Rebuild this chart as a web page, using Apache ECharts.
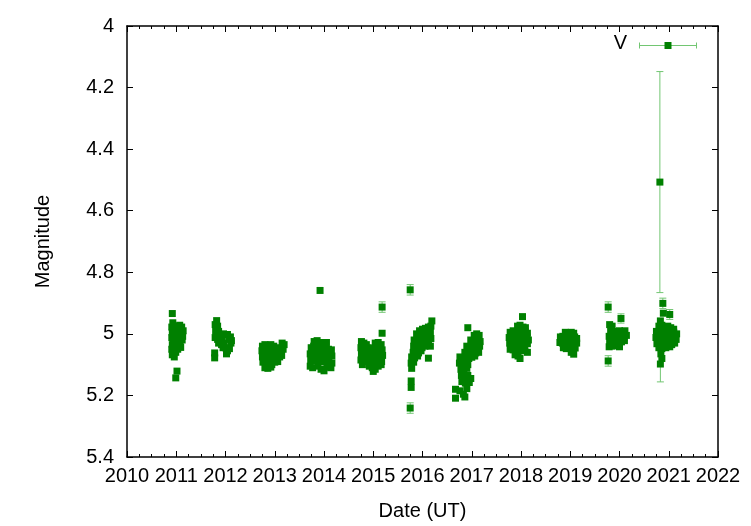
<!DOCTYPE html>
<html><head><meta charset="utf-8">
<script src="https://cdn.jsdelivr.net/npm/echarts@6/dist/echarts.min.js"></script>
<style>html,body{margin:0;padding:0;background:#fff}#c{width:751px;height:526px}</style>
</head><body><div id="c"></div>
<script>
// Tick values / labels
const yearTicks = [2010,2011,2012,2013,2014,2015,2016,2017,2018,2019,2020,2021,2022];
const magTicks = [4,4.2,4.4,4.6,4.8,5,5.2,5.4];
const seriesName = 'V';
const xTitle = 'Date (UT)';
const yTitle = 'Magnitude';

// Observations per season: [year, magnitude, (optional) error]
const s2011 = [[2010.92,4.934],[2010.93,4.964],[2010.91,4.978],[2010.95,4.985],[2010.92,4.995],[2010.96,5.005],[2010.91,5.012],[2010.94,5.022],[2010.92,5.035],[2010.96,5.04],[2010.91,5.05],[2010.94,5.058],[2010.92,5.068],[2010.96,5.075],[2010.99,5.06],
[2011.0,4.985],[2011.03,4.975],[2011.07,4.972],[2011.11,4.978],[2011.14,4.99],[2011.02,4.998],[2011.06,4.992],[2011.1,5.0],[2011.13,5.008],[2011.0,5.015],[2011.04,5.02],[2011.08,5.025],[2011.12,5.02],[2011.01,5.035],[2011.05,5.04],[2011.09,5.044],[2011.03,5.05],
[2011.015,5.121],[2010.99,5.143]];
const s2012 = [[2011.82,4.957],[2011.79,4.97],[2011.84,4.975],[2011.8,4.99],[2011.86,4.992],[2011.82,5.0],[2011.88,5.008],[2011.79,5.012],[2011.84,5.018],[2011.9,5.02],[2011.86,5.03],[2011.78,5.062],[2011.78,5.078],[2011.93,5.01],[2011.96,5.0],[2012.0,5.003],[2012.04,5.002],[2011.92,5.035],[2011.97,5.03],[2012.1,5.01],[2012.12,5.022],[2012.07,5.018],[2012.0,5.045],[2012.04,5.055],[2012.08,5.048],[2012.02,5.065],[2012.11,5.03],[2011.95,5.045]];
const s2013 = [[2012.75,5.04],[2012.8,5.035],[2012.86,5.04],[2012.92,5.035],[2012.98,5.04],[2013.04,5.045],[2013.15,5.03],[2013.19,5.035],[2013.17,5.05],
[2012.74,5.055],[2012.78,5.06],[2012.84,5.055],[2012.9,5.062],[2012.96,5.058],[2013.02,5.06],[2013.08,5.065],[2013.12,5.06],
[2012.75,5.075],[2012.81,5.08],[2012.87,5.075],[2012.93,5.082],[2012.99,5.078],[2013.05,5.08],[2013.1,5.075],[2013.14,5.07],
[2012.76,5.092],[2012.82,5.098],[2012.88,5.095],[2012.94,5.1],[2013.0,5.092],[2013.06,5.09],
[2012.8,5.11],[2012.86,5.112],[2012.92,5.108]];
const s2014 = [[2013.92,4.859],
[2013.8,5.025],[2013.86,5.022],[2013.93,5.028],[2014.0,5.03],[2014.05,5.028],
[2013.74,5.045],[2013.79,5.04],[2013.85,5.045],[2013.91,5.042],[2013.97,5.048],[2014.03,5.045],[2014.09,5.05],[2014.15,5.052],
[2013.72,5.065],[2013.78,5.062],[2013.84,5.068],[2013.9,5.065],[2013.96,5.07],[2014.02,5.066],[2014.08,5.07],[2014.16,5.072],
[2013.73,5.085],[2013.8,5.088],[2013.86,5.083],[2013.92,5.09],[2013.98,5.086],[2014.04,5.092],[2014.1,5.088],[2014.16,5.095],
[2013.72,5.105],[2013.77,5.11],[2013.88,5.105],[2013.94,5.115],[2014.0,5.12],[2014.07,5.108],[2014.14,5.11]];
const s2015 = [[2015.18,4.913,0.017],[2015.18,4.998],
[2014.76,5.025],[2014.81,5.03],[2014.86,5.035],[2015.04,5.03],[2015.1,5.028],[2015.16,5.035],
[2014.75,5.045],[2014.8,5.05],[2014.85,5.046],[2014.9,5.045],[2014.95,5.048],[2015.0,5.05],[2015.06,5.045],[2015.12,5.05],[2015.18,5.052],
[2014.76,5.065],[2014.82,5.068],[2014.88,5.064],[2014.94,5.07],[2015.0,5.068],[2015.06,5.072],[2015.12,5.066],[2015.19,5.07],
[2014.75,5.085],[2014.81,5.09],[2014.87,5.086],[2014.93,5.092],[2014.99,5.088],[2015.05,5.09],[2015.11,5.085],[2015.17,5.09],
[2014.78,5.1],[2014.92,5.105],[2014.98,5.11],[2015.04,5.115],[2015.1,5.105],[2015.16,5.1],[2015.0,5.122]];
const s2016 = [[2015.75,4.857,0.017],[2016.19,4.958],
[2015.94,4.99],[2016.0,4.985],[2016.06,4.982],[2016.12,4.978],[2016.17,4.975],
[2015.88,5.0],[2015.93,5.005],[2015.99,5.0],[2016.05,5.003],[2016.11,4.998],[2016.16,4.995],
[2015.83,5.02],[2015.88,5.025],[2015.94,5.02],[2016.0,5.024],[2016.06,5.02],[2016.12,5.018],[2016.17,5.015],
[2015.82,5.04],[2015.87,5.045],[2015.93,5.04],[2015.99,5.045],[2016.05,5.04],[2016.12,5.035],[2016.16,5.04],
[2015.81,5.06],[2015.86,5.058],[2015.92,5.062],[2015.97,5.055],[2016.12,5.079],
[2015.78,5.075],[2015.84,5.078],[2015.9,5.072],
[2015.77,5.095],[2015.82,5.092],[2015.78,5.112],
[2015.77,5.153],[2015.77,5.174],[2015.75,5.241,0.017]];
const s2017 = [[2016.92,4.98],
[2017.05,5.005],[2017.1,5.0],[2017.15,5.005],
[2016.98,5.02],[2017.03,5.022],[2017.08,5.018],[2017.13,5.02],[2017.17,5.025],
[2016.9,5.04],[2016.95,5.042],[2017.0,5.038],[2017.06,5.04],[2017.11,5.044],[2017.16,5.04],
[2016.86,5.06],[2016.92,5.058],[2016.97,5.062],[2017.03,5.058],[2017.08,5.062],[2017.14,5.06],
[2016.76,5.075],[2016.82,5.078],[2016.88,5.075],[2016.94,5.08],[2017.0,5.076],[2017.06,5.072],
[2016.75,5.095],[2016.81,5.098],[2016.86,5.094],[2016.92,5.1],
[2016.78,5.115],[2016.84,5.118],[2016.9,5.112],
[2016.79,5.135],[2016.85,5.14],[2016.92,5.135],[2016.98,5.145],
[2016.8,5.155],[2016.87,5.16],[2016.95,5.158],
[2016.67,5.18],[2016.76,5.185],[2016.83,5.196],[2016.9,5.178],[2016.67,5.209],[2016.86,5.205]];
const s2018 = [[2018.03,4.944],
[2017.93,4.975],[2017.98,4.972],[2018.04,4.978],[2018.09,4.98],
[2017.78,4.995],[2017.84,4.99],[2017.9,4.995],[2017.96,4.99],[2018.02,4.995],[2018.08,4.992],[2018.13,4.998],
[2017.76,5.012],[2017.82,5.015],[2017.88,5.01],[2017.94,5.016],[2018.0,5.012],[2018.06,5.015],[2018.12,5.01],[2018.15,5.02],
[2017.77,5.03],[2017.83,5.035],[2017.89,5.03],[2017.95,5.034],[2018.01,5.03],[2018.07,5.035],[2018.13,5.032],
[2017.78,5.05],[2017.84,5.052],[2017.9,5.048],[2017.96,5.055],[2018.02,5.05],[2018.08,5.055],[2018.13,5.06],
[2017.88,5.068],[2017.94,5.072],[2017.98,5.08]];
const s2019 = [[2018.9,4.995],[2018.96,4.997],[2019.02,4.995],[2019.07,4.998],
[2018.8,5.01],[2018.85,5.008],[2018.91,5.012],[2018.97,5.01],[2019.03,5.013],[2019.09,5.01],[2019.13,5.015],
[2018.79,5.028],[2018.84,5.03],[2018.9,5.026],[2018.96,5.03],[2019.02,5.028],[2019.08,5.032],[2019.13,5.03],
[2018.86,5.045],[2018.92,5.048],[2018.98,5.044],[2019.04,5.05],[2019.1,5.046],
[2019.02,5.06],[2019.07,5.066]];
const s2020 = [[2019.77,4.913,0.017],[2019.77,5.088,0.017],[2020.03,4.95,0.015],
[2019.8,4.97],[2019.85,4.975],[2019.82,4.99],[2019.88,4.992],[2019.94,4.995],[2020.0,4.99],[2020.06,4.995],[2020.11,4.99],
[2019.79,5.008],[2019.85,5.01],[2019.91,5.006],[2019.97,5.012],[2020.03,5.008],[2020.09,5.012],[2020.14,5.005],
[2019.8,5.025],[2019.86,5.028],[2019.92,5.024],[2019.98,5.03],[2020.04,5.026],[2020.1,5.022],
[2019.79,5.042],[2019.85,5.04],[2019.94,5.038],[2020.0,5.042]];
const s2021 = [[2020.82,4.507,0.359],[2020.88,4.901,0.017],[2020.89,4.933],[2021.02,4.937,0.016],[2020.83,4.958],
[2020.8,4.975],[2020.86,4.972],[2020.92,4.978],[2020.98,4.975],[2021.04,4.98],[2021.1,4.985],
[2020.75,4.992],[2020.8,4.995],[2020.86,4.99],[2020.92,4.996],[2020.98,4.992],[2021.04,4.998],[2021.1,4.995],[2021.16,5.0],
[2020.74,5.012],[2020.79,5.015],[2020.85,5.01],[2020.91,5.016],[2020.97,5.012],[2021.03,5.015],[2021.09,5.01],[2021.15,5.018],
[2020.76,5.032],[2020.82,5.035],[2020.88,5.03],[2020.94,5.036],[2021.0,5.032],[2021.06,5.035],[2021.12,5.03],
[2020.8,5.045],[2020.86,5.048],[2020.94,5.045],[2021.02,5.042],
[2020.84,5.065],[2020.86,5.08],[2020.83,5.098,0.058]];

const seasons = [s2011,s2012,s2013,s2014,s2015,s2016,s2017,s2018,s2019,s2020,s2021];
const allPts = [].concat(...seasons);
const pointData = allPts.map(p => [p[0], p[1]]);
const errData = allPts.filter(p => p.length > 2).map(p => [p[0], p[1], p[2]]);

const markColor = '#008000';
const errColor = '#72c672';
const FONT = 'Liberation Sans, Arial, sans-serif';
const FS = 20;

const chart = echarts.init(document.getElementById('c'), null, {renderer:'canvas'});
const baseAxisLine = {show:true, lineStyle:{color:'#000', width:1.5}};
const tick = {show:true, inside:true, length:6, lineStyle:{color:'#000', width:1}};
const minor = {show:true, splitNumber:4, length:3, lineStyle:{color:'#000', width:1}};

chart.setOption({
  animation:false,
  backgroundColor:'#fff',
  grid:{left:127, right:33, top:26, bottom:68},
  xAxis:[{
    type:'value', min:yearTicks[0], max:yearTicks[yearTicks.length-1], interval:1,
    position:'bottom',
    axisLine:baseAxisLine, axisTick:tick, minorTick:minor, splitLine:{show:false},
    axisLabel:{color:'#000', fontFamily:FONT, fontSize:FS, margin:9, formatter:v=>String(v)},
    name:xTitle, nameLocation:'middle', nameGap:44,
    nameTextStyle:{color:'#000', fontFamily:FONT, fontSize:FS}
  },{
    type:'value', min:yearTicks[0], max:yearTicks[yearTicks.length-1], interval:1,
    position:'top',
    axisLine:baseAxisLine, axisTick:tick, minorTick:minor, splitLine:{show:false},
    axisLabel:{show:false}
  }],
  yAxis:[{
    type:'value', inverse:true, min:magTicks[0], max:magTicks[magTicks.length-1], interval:0.2,
    position:'left',
    axisLine:baseAxisLine, axisTick:tick, splitLine:{show:false},
    axisLabel:{color:'#000', fontFamily:FONT, fontSize:FS, margin:13},
    name:yTitle, nameLocation:'middle', nameGap:74,
    nameTextStyle:{color:'#000', fontFamily:FONT, fontSize:FS}
  },{
    type:'value', inverse:true, min:magTicks[0], max:magTicks[magTicks.length-1], interval:0.2,
    position:'right',
    axisLine:baseAxisLine, axisTick:tick, splitLine:{show:false},
    axisLabel:{show:false}
  }],
  series:[{
    type:'custom', name:seriesName, xAxisIndex:0, yAxisIndex:0, data:errData,
    encode:{x:0, y:1}, silent:true, z:1,
    renderItem:function(params, api){
      const x = api.value(0), y = api.value(1), e = api.value(2);
      const t = api.coord([x, y - e]), b = api.coord([x, y + e]);
      const hw = 3.5, st = {stroke:errColor, lineWidth:1};
      return {type:'group', children:[
        {type:'line', shape:{x1:t[0], y1:t[1], x2:b[0], y2:b[1]}, style:st},
        {type:'line', shape:{x1:t[0]-hw, y1:t[1], x2:t[0]+hw, y2:t[1]}, style:st},
        {type:'line', shape:{x1:b[0]-hw, y1:b[1], x2:b[0]+hw, y2:b[1]}, style:st}
      ]};
    }
  },{
    type:'scatter', name:seriesName, xAxisIndex:0, yAxisIndex:0, data:pointData,
    symbol:'rect', symbolSize:7, z:2, silent:true,
    itemStyle:{color:markColor, opacity:1}
  }],
  graphic:[
    {type:'text', right:751-627, top:33, style:{text:seriesName, fill:'#000', font:FS+'px '+FONT}},
    {type:'group', left:637, top:40, children:[
      {type:'line', shape:{x1:0, y1:3, x2:57, y2:3}, style:{stroke:errColor, lineWidth:1}},
      {type:'line', shape:{x1:0, y1:0, x2:0, y2:6}, style:{stroke:errColor, lineWidth:1}},
      {type:'line', shape:{x1:57, y1:0, x2:57, y2:6}, style:{stroke:errColor, lineWidth:1}},
      {type:'rect', shape:{x:25, y:-0.5, width:7, height:7}, style:{fill:markColor}}
    ]}
  ]
});
</script></body></html>
